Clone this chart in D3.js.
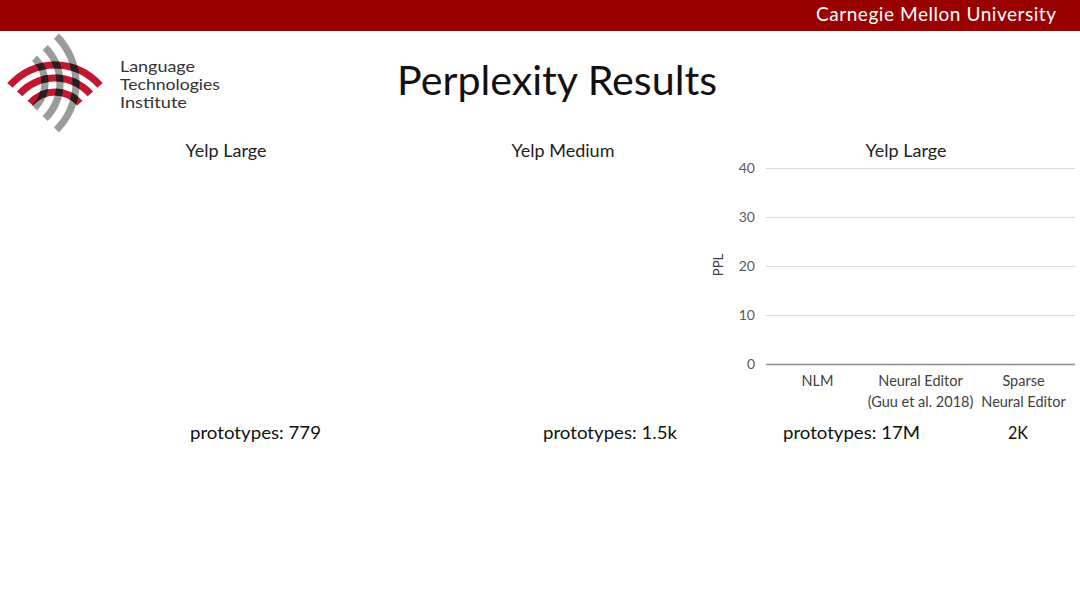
<!DOCTYPE html>
<html>
<head>
<meta charset="utf-8">
<script src="https://cdn.jsdelivr.net/npm/d3@7"></script>
<style>
  html, body { margin: 0; padding: 0; background: #fff; }
  svg { display: block; font-family: Lato, "Open Sans", sans-serif; }
</style>
</head>
<body>
<svg id="slide" width="1080" height="607"></svg>
<script>
// slide content
const slideTitle = 'Perplexity Results';
const panelTitles = ['Yelp Large', 'Yelp Medium', 'Yelp Large'];
const prototypeLabels = ['prototypes: 779', 'prototypes: 1.5k', 'prototypes: 17M', '2K'];
const models = ['NLM', 'Neural Editor', 'Sparse Neural Editor'];
const modelLines = [['NLM'], ['Neural Editor', '(Guu et al. 2018)'], ['Sparse', 'Neural Editor']];
const pplValues = [null, null, null]; // bars not revealed yet on this slide
const yTicks = [0, 10, 20, 30, 40];

const svg = d3.select('#slide');

// header band
svg.append('rect')
  .attr('x', 0).attr('y', 0)
  .attr('width', 1080).attr('height', 31)
  .attr('fill', '#990000');
svg.append('text')
  .attr('x', 1056).attr('y', 21)
  .attr('text-anchor', 'end')
  .attr('fill', '#fff')
  .attr('font-size', 19)
  .attr('textLength', 240)
  .text('Carnegie Mellon University');

// LTI logo
{
const logo = svg.append('g').attr('class', 'logo');
const half = 3.6;
const redArc = d3.arc().startAngle(-0.85).endAngle(0.85);
const grayArc = d3.arc().startAngle(Math.PI / 2 - 0.79).endAngle(Math.PI / 2 + 0.79);
const redC = 'translate(55,125)';
const grayC = 'translate(10,83)';
const redR = [33, 47, 60];
const grayR = [35, 50, 66];

const defs = svg.append('defs');
const clip = defs.append('clipPath').attr('id', 'redclip');
redR.forEach(r => {
  clip.append('path')
    .attr('transform', redC)
    .attr('d', redArc.innerRadius(r - half).outerRadius(r + half)());
});

grayR.forEach(r => {
  logo.append('path')
    .attr('transform', grayC)
    .attr('fill', '#9b9b9b')
    .attr('d', grayArc.innerRadius(r - half).outerRadius(r + half)());
});
redR.forEach(r => {
  logo.append('path')
    .attr('transform', redC)
    .attr('fill', '#c1182f')
    .attr('d', redArc.innerRadius(r - half).outerRadius(r + half)());
});
const dark = logo.append('g').attr('clip-path', 'url(#redclip)');
grayR.forEach(r => {
  dark.append('path')
    .attr('transform', grayC)
    .attr('fill', '#2a1d1f')
    .attr('d', grayArc.innerRadius(r - half).outerRadius(r + half)());
});

const ltiW = [75, 100, 67];
logo.selectAll('.lti')
  .data(['Language', 'Technologies', 'Institute'])
  .enter().append('text')
  .attr('x', 120)
  .attr('y', (d, i) => 72 + i * 18)
  .attr('font-size', 15)
  .attr('fill', '#333')
  .attr('textLength', (d, i) => ltiW[i])
  .attr('lengthAdjust', 'spacingAndGlyphs')
  .text(d => d);
}

// title
svg.append('text')
  .attr('x', 557).attr('y', 95)
  .attr('text-anchor', 'middle')
  .attr('font-size', 40)
  .attr('fill', '#111')
  .attr('textLength', 320)
  .attr('lengthAdjust', 'spacingAndGlyphs')
  .text(slideTitle);

// panel titles
const titleX = [226, 563, 906];
svg.selectAll('.panel-title')
  .data(panelTitles)
  .enter().append('text')
  .attr('class', 'panel-title')
  .attr('x', (d, i) => titleX[i])
  .attr('y', 157)
  .attr('text-anchor', 'middle')
  .attr('font-size', 18)
  .attr('fill', '#222')
  .text(d => d);

// chart on the right
const chart = { left: 766, right: 1075, top: 168, bottom: 364 };
const x = d3.scaleBand()
  .domain(models)
  .range([chart.left, chart.right]);
const y = d3.scaleLinear()
  .domain([0, 40])
  .range([chart.bottom, chart.top]);

const grid = svg.append('g')
  .attr('transform', `translate(${chart.left},0)`)
  .call(d3.axisLeft(y)
    .tickValues(yTicks)
    .tickSize(-(chart.right - chart.left))
    .tickPadding(11)
  );
grid.select('.domain').remove();
grid.selectAll('.tick line')
  .attr('stroke', d => d === 0 ? '#8c8c8c' : '#d9d9d9')
  .attr('stroke-width', d => d === 0 ? 1.3 : 1);
grid.selectAll('.tick text')
  .attr('font-family', 'Lato, sans-serif')
  .attr('font-size', 14)
  .attr('fill', '#595959');

svg.append('text')
  .attr('transform', 'translate(723,265) rotate(-90)')
  .attr('text-anchor', 'middle')
  .attr('font-size', 13)
  .attr('fill', '#404040')
  .text('PPL');

svg.append('g').selectAll('.bar')
  .data(pplValues.map((v, i) => ({ model: models[i], v })).filter(d => d.v != null))
  .enter().append('rect')
  .attr('class', 'bar')
  .attr('x', d => x(d.model) + x.bandwidth() * 0.2)
  .attr('width', x.bandwidth() * 0.6)
  .attr('y', d => y(d.v))
  .attr('height', d => y(0) - y(d.v))
  .attr('fill', '#4472c4');

const cat = svg.append('g').selectAll('.cat')
  .data(models)
  .enter().append('text')
  .attr('class', 'cat')
  .attr('text-anchor', 'middle')
  .attr('font-size', 14.5)
  .attr('fill', '#404040');
cat.selectAll('tspan')
  .data((d, i) => modelLines[i].map(t => ({ t, m: d })))
  .enter().append('tspan')
  .attr('x', d => x(d.m) + x.bandwidth() / 2)
  .attr('y', (d, j) => 386 + j * 21)
  .text(d => d.t);

// prototype counts
const protoX = [190, 543, 783, 1008];
const protoW = [131, 134, 137, 20];
svg.selectAll('.proto')
  .data(prototypeLabels)
  .enter().append('text')
  .attr('class', 'proto')
  .attr('x', (d, i) => protoX[i])
  .attr('y', 439)
  .attr('font-size', 18)
  .attr('fill', '#111')
  .attr('textLength', (d, i) => protoW[i])
  .attr('lengthAdjust', 'spacingAndGlyphs')
  .text(d => d);
</script>
</body>
</html>
